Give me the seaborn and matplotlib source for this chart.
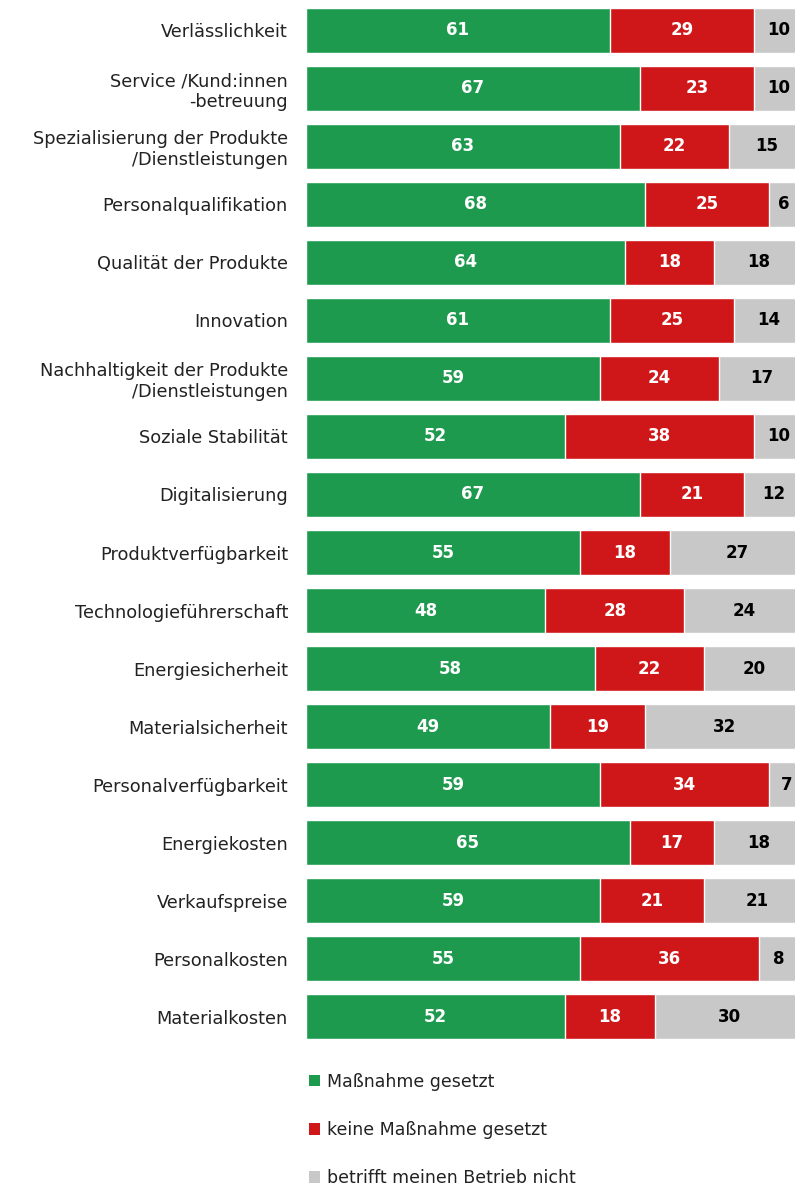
import matplotlib
matplotlib.use("Agg")
import matplotlib.pyplot as plt
import seaborn as sns
import pandas as pd
import numpy as np
from matplotlib.patches import Patch

categories = [
    "Verlässlichkeit",
    "Service /Kund:innen\n-betreuung",
    "Spezialisierung der Produkte\n/Dienstleistungen",
    "Personalqualifikation",
    "Qualität der Produkte",
    "Innovation",
    "Nachhaltigkeit der Produkte\n/Dienstleistungen",
    "Soziale Stabilität",
    "Digitalisierung",
    "Produktverfügbarkeit",
    "Technologieführerschaft",
    "Energiesicherheit",
    "Materialsicherheit",
    "Personalverfügbarkeit",
    "Energiekosten",
    "Verkaufspreise",
    "Personalkosten",
    "Materialkosten",
]
massnahme = [61, 67, 63, 68, 64, 61, 59, 52, 67, 55, 48, 58, 49, 59, 65, 59, 55, 52]
keine = [29, 23, 22, 25, 18, 25, 24, 38, 21, 18, 28, 22, 19, 34, 17, 21, 36, 18]
betrifft = [10, 10, 15, 6, 18, 14, 17, 10, 12, 27, 24, 20, 32, 7, 18, 21, 8, 30]
series_names = ["Maßnahme gesetzt", "keine Maßnahme gesetzt", "betrifft meinen Betrieb nicht"]

GREEN = "#1e9a4f"
RED = "#cf1719"
GREY = "#c8c8c8"

sns.set_theme(style="white")
plt.rcParams['font.family'] = ['DejaVu Sans']

df = pd.DataFrame({
    "cat": categories,
    "g": massnahme,
    "r": keine,
    "n": betrifft,
})
df["gr"] = df["g"] + df["r"]
df["total"] = df["gr"] + df["n"]

W, H = 795, 1189
fig = plt.figure(figsize=(W / 100, H / 100), dpi=100)
ax = fig.add_axes([306 / W, 1 - 1046 / H, 1 - 306 / W, 1045 / H])

bw = 0.775
sns.barplot(data=df, x="total", y="cat", color=GREY, orient="h", width=bw, ax=ax, saturation=1)
sns.barplot(data=df, x="gr", y="cat", color=RED, orient="h", width=bw, ax=ax, saturation=1)
sns.barplot(data=df, x="g", y="cat", color=GREEN, orient="h", width=bw, ax=ax, saturation=1)

for i, row in df.iterrows():
    ax.text(row["g"] / 2, i, f"{row['g']}", ha="center", va="center", color="white",
            fontsize=12, fontweight="bold")
    ax.text(row["g"] + row["r"] / 2, i, f"{row['r']}", ha="center", va="center", color="white",
            fontsize=12, fontweight="bold")
    ax.text(row["gr"] + row["n"] / 2, i, f"{row['n']}", ha="center", va="center", color="black",
            fontsize=12, fontweight="bold")

ax.set_xlim(0, 489 / 4.98)
ax.set_ylim(len(categories) - 0.5, -0.5)
ax.set_xlabel("")
ax.set_ylabel("")
ax.set_xticks([])
for s in ax.spines.values():
    s.set_visible(False)
ax.tick_params(axis="y", length=0, pad=13, labelsize=12.8, labelcolor="#222222")
for lbl in ax.get_yticklabels():
    lbl.set_horizontalalignment("right")
    lbl.set_linespacing(1.2)

handles = [Patch(facecolor=c, edgecolor="none", label=n) for c, n in zip([GREEN, RED, GREY], series_names)]
fig.legend(handles=handles, loc="upper left", bbox_to_anchor=(293 / W, 1 - 1057 / H),
           frameon=False, fontsize=12.5, handlelength=0.65, handleheight=0.65,
           handletextpad=0.4, labelspacing=1.75, labelcolor="#222222")

fig.savefig("out.png", dpi=100)
